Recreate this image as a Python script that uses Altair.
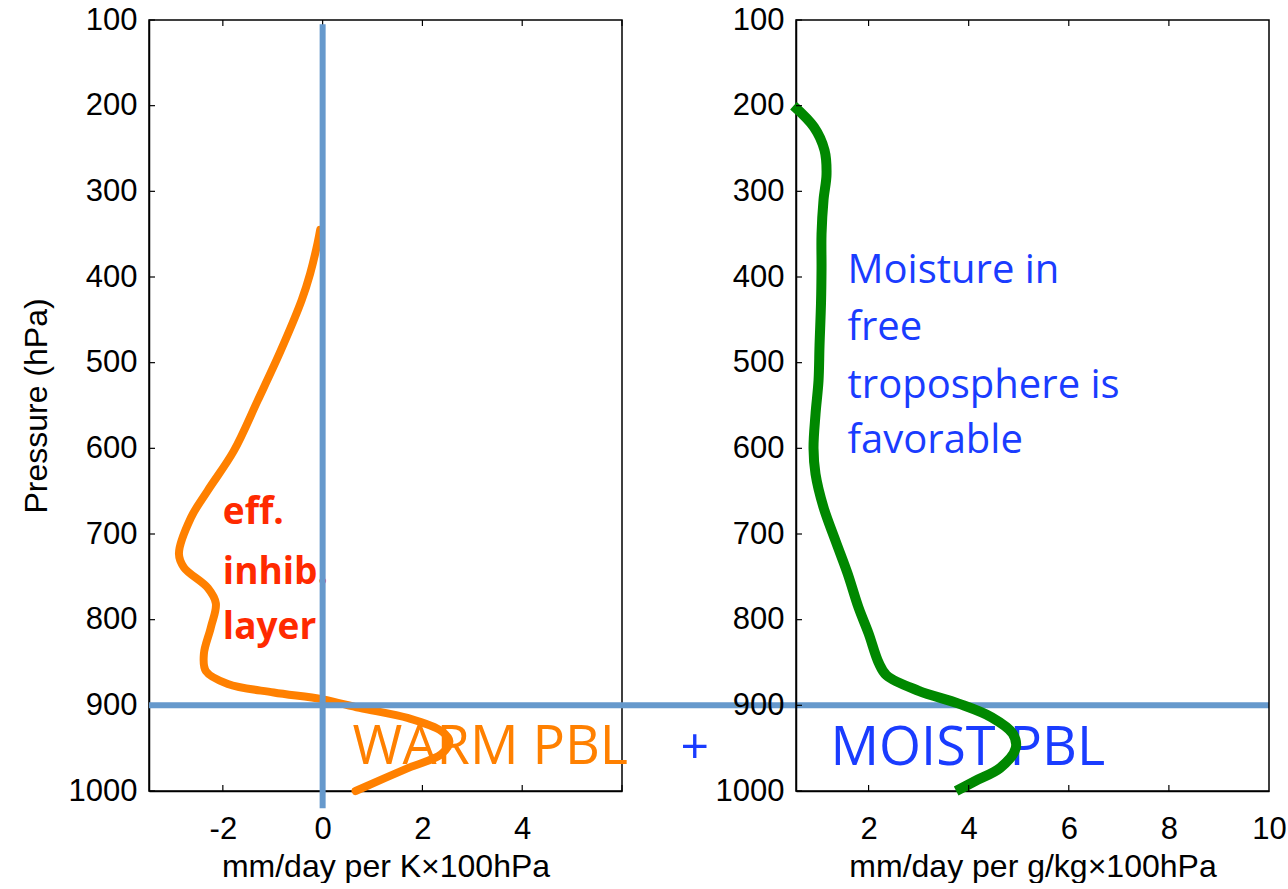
import altair as alt
import pandas as pd

# ---------------- data ----------------
# Left panel: sensitivity to temperature (orange), x in mm/day per K x 100hPa
temp_x = [-0.05, -0.1, -0.25, -0.42, -0.84, -1.3, -1.78, -2.3, -2.64, -2.88, -2.78,
          -2.3, -2.14, -2.24, -2.38, -2.34, -1.9, -0.98, 0.0, 0.74, 1.72, 2.38,
          2.54, 2.38, 1.72, 0.66]
temp_p = [345, 360, 396, 427, 486, 544, 603, 649, 681, 723, 739,
          763, 781, 809, 840, 860, 875, 885, 893, 903, 915, 930,
          942, 957, 973, 1000]

# Right panel: sensitivity to moisture (green), x in mm/day per g/kg x 100hPa
moist_x = [0.5, 0.91, 1.12, 1.16, 1.1, 1.06, 1.06, 1.05, 1.02, 1.0, 0.94, 0.9,
           0.94, 1.1, 1.34, 1.58, 1.8, 2.0, 2.2, 2.36, 3.0, 3.8, 4.46, 4.88,
           4.94, 4.63, 4.14, 3.75]
moist_p = [200, 225, 252, 280, 310, 350, 390, 430, 480, 521, 560, 600,
           630, 669, 708, 746, 786, 816, 850, 865, 883, 898, 914, 933,
           950, 973, 988, 1000]

pressure_ticks = [100, 200, 300, 400, 500, 600, 700, 800, 900, 1000]
left_labels = [-2, 0, 2, 4]
left_ticks = [-2, 0, 2, 4, 6]
right_labels = [2, 4, 6, 8, 10]
right_ticks = [2, 4, 6, 8]

left_domain = [-3.48, 6]
right_domain = [0.55, 10]
p_domain = [100, 1000]

red_text = ["eff.", "inhib.", "layer"]
red_x = [-2.0, -2.0, -2.0]
red_p = [688, 758, 822]

blue_text = ["Moisture in", "free", "troposphere is", "favorable"]
blue_x = [1.58, 1.58, 1.58, 1.58]
blue_p = [407, 474, 541, 606]

# ---------------- layout constants ----------------
W, H = 473, 771
GAP = 174

ORANGE = "#FF8000"
GREEN = "#008800"
LINEBLUE = "#6699CC"
TEXTBLUE = "#1A3CFF"
RED = "#FF2A00"
TXT_FONT = "Open Sans"
AX_FONT = "Liberation Sans"
LABEL_EXPR = "'' + datum.value"

y_scale = alt.Scale(domain=p_domain, reverse=True, nice=False, zero=False)


def y_enc(title):
    return alt.Y(
        "p:Q",
        scale=y_scale,
        axis=alt.Axis(
            values=pressure_ticks,
            labelExpr=LABEL_EXPR,
            ticks=False,
            labelFontSize=31,
            labelPadding=12,
            title=title,
            titleFontSize=32,
            titlePadding=15,
        ),
    )


def x_enc(domain, labels, title):
    return alt.X(
        "x:Q",
        scale=alt.Scale(domain=domain, nice=False, zero=False),
        axis=alt.Axis(
            values=labels,
            labelExpr=LABEL_EXPR,
            ticks=False,
            labelFlush=False,
            labelFontSize=31,
            labelPadding=23,
            title=title,
            titleFontSize=32,
            titlePadding=7,
        ),
    )


def inward_ticks(xticks):
    ydf = pd.DataFrame({"p": pressure_ticks})
    xdf = pd.DataFrame({"x": xticks})
    left = alt.Chart(ydf).mark_rule(color="black", strokeWidth=1.2).encode(
        y="p:Q", x=alt.value(0), x2=alt.value(6))
    top = alt.Chart(xdf).mark_rule(color="black", strokeWidth=1.2).encode(
        x="x:Q", y=alt.value(0), y2=alt.value(6))
    bottom = alt.Chart(xdf).mark_rule(color="black", strokeWidth=1.2).encode(
        x="x:Q", y=alt.value(H - 6), y2=alt.value(H))
    return [left, top, bottom]


# ---------------- left panel ----------------
temp_df = pd.DataFrame({"x": temp_x, "p": temp_p, "i": range(len(temp_x))})
xl = x_enc(left_domain, left_labels, "mm/day per K×100hPa")
yl = y_enc("Pressure (hPa)")

temp_line = alt.Chart(temp_df).mark_line(
    color=ORANGE, strokeWidth=8, interpolate="catmull-rom",
    strokeCap="round", strokeJoin="round"
).encode(x=xl, y=yl, order="i:Q")

red_df = pd.DataFrame({"x": red_x, "p": red_p, "t": red_text})
red_layer = alt.Chart(red_df).mark_text(
    align="left", baseline="alphabetic", font=TXT_FONT, fontSize=37,
    fontWeight="bold", color=RED
).encode(x="x:Q", y="p:Q", text="t:N")

warm_df = pd.DataFrame({"x": [0.6], "p": [968], "t": ["WARM PBL"]})
warm_layer = alt.Chart(warm_df).mark_text(
    align="left", baseline="alphabetic", font=TXT_FONT, fontSize=54, color=ORANGE
).encode(x="x:Q", y="p:Q", text="t:N")

plus_df = pd.DataFrame({"x": [7.46], "p": [968], "t": ["+"]})
plus_layer = alt.Chart(plus_df).mark_text(
    align="center", baseline="alphabetic", font=TXT_FONT, fontSize=50, color=TEXTBLUE
).encode(x="x:Q", y="p:Q", text="t:N")

vrule_df = pd.DataFrame({"x": [0], "p": [105], "p2": [1020]})
vrule = alt.Chart(vrule_df).mark_rule(color=LINEBLUE, strokeWidth=6).encode(
    x="x:Q", y="p:Q", y2="p2:Q")

hrule_df = pd.DataFrame({"p": [900]})
hrule = alt.Chart(hrule_df).mark_rule(color=LINEBLUE, strokeWidth=6).encode(
    y="p:Q", x=alt.value(0), x2=alt.value(W + GAP + W))

left = alt.layer(
    temp_line, red_layer, warm_layer, plus_layer, *inward_ticks(left_ticks), vrule, hrule
).properties(width=W, height=H)

# ---------------- right panel ----------------
moist_df = pd.DataFrame({"x": moist_x, "p": moist_p, "i": range(len(moist_x))})
xr = x_enc(right_domain, right_labels, "mm/day per g/kg×100hPa")
yr = y_enc(None)

moist_line = alt.Chart(moist_df).mark_line(
    color=GREEN, strokeWidth=10, interpolate="catmull-rom",
    strokeCap="butt", strokeJoin="round"
).encode(x=xr, y=yr, order="i:Q")

blue_df = pd.DataFrame({"x": blue_x, "p": blue_p, "t": blue_text})
blue_layer = alt.Chart(blue_df).mark_text(
    align="left", baseline="alphabetic", font=TXT_FONT, fontSize=40, color=TEXTBLUE
).encode(x="x:Q", y="p:Q", text="t:N")

moistpbl_df = pd.DataFrame({"x": [1.24], "p": [970], "t": ["MOIST PBL"]})
moistpbl_layer = alt.Chart(moistpbl_df).mark_text(
    align="left", baseline="alphabetic", font=TXT_FONT, fontSize=54, color=TEXTBLUE
).encode(x="x:Q", y="p:Q", text="t:N")

right = alt.layer(
    moistpbl_layer, blue_layer, moist_line, *inward_ticks(right_ticks)
).properties(width=W, height=H)

chart = alt.hconcat(left, right, spacing=GAP, bounds="flush").properties(
    padding={"left": 19, "top": 3, "right": 0, "bottom": 0},
    background="white",
).configure_view(
    stroke="black", strokeWidth=1.5
).configure_axis(
    grid=False, domainColor="black", domainWidth=1.5,
    labelColor="black", titleColor="black",
    labelFont=AX_FONT, titleFont=AX_FONT, titleFontWeight="normal",
)

chart.save("out.html", embed_options={"renderer": "svg", "actions": False})
